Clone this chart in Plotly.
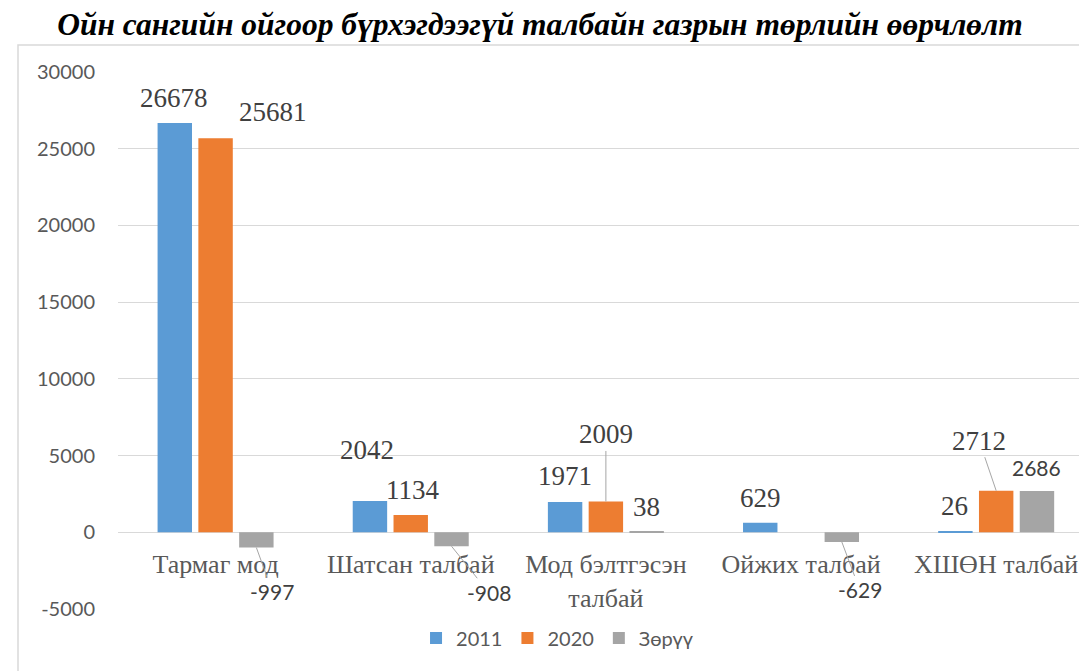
import plotly.graph_objects as go

# ---------------- data ----------------
categories = ["Тармаг мод", "Шатсан талбай", "Мод бэлтгэсэн<br>талбай", "Ойжих талбай", "ХШӨН талбай"]
series_names = ["2011", "2020", "Зөрүү"]
values_2011 = [26678, 2042, 1971, 629, 26]
values_2020 = [25681, 1134, 2009, 0, 2712]
values_diff = [-997, -908, 38, -629, 2686]
y_tick_values = [-5000, 0, 5000, 10000, 15000, 20000, 25000, 30000]
y_tick_labels = ["-5000", "0", "5000", "10000", "15000", "20000", "25000", "30000"]
title_text = "Ойн сангийн ойгоор бүрхэгдээгүй талбайн газрын төрлийн өөрчлөлт"

# ---------------- styling ----------------
colors = ["#5b9bd5", "#ed7d31", "#a5a5a5"]
SERIF = "Liberation Serif"
SANS = "Lato"
BARGAP = 0.373
BARGROUPGAP = 0.156
Y_RANGE = [-5000, 30000]
X_RANGE = [-0.5, 4.45]  # plot area ends a little before the last category's edge
FIG_W, FIG_H = 1079, 663  # page body adds an 8px offset
M = dict(l=110, r=3, t=64, b=62)

# label placement per series / category: (mode, dx, dy, font)
# mode "s" = shifted text (dx right, dy up); "a" = leader line (ax, ay in px)
label_style = [
    [("s", -1, 25, SERIF), ("s", -3, 51, SERIF), ("s", 0, 26, SERIF), ("s", 0, 25, SERIF), ("s", -1, 26, SERIF)],
    [("s", 57, 26, SERIF), ("s", 2, 25, SERIF), ("a", 0, -67, SERIF), None, ("a", -17, -50, SERIF)],
    [("a", 16, 44, SANS), ("a", 37, 46, SANS), ("s", 0, 25, SERIF), ("a", 18, 48, SANS), ("s", 0, 24, SANS)],
]

all_values = [values_2011, values_2020, values_diff]
x_pos = list(range(len(categories)))
slot = (1 - BARGAP) / 3

fig = go.Figure()
for name, vals, col in zip(series_names, all_values, colors):
    fig.add_trace(go.Bar(
        x=x_pos, y=vals, name=name, marker=dict(color=col, line=dict(width=0)),
        hoverinfo="skip",
    ))

annotations = []
for si, vals in enumerate(all_values):
    for ci, v in enumerate(vals):
        st = label_style[si][ci]
        if st is None or v == 0:
            continue
        mode, dx, dy, fam = st
        size = 27 if fam == SERIF else 21
        xc = ci + (si - 1) * slot
        base = dict(x=xc, y=v, xref="x", yref="y", text=str(v),
                    font=dict(family=fam, size=size, color="#404040"))
        if mode == "s":
            base.update(showarrow=False, xshift=dx, yshift=dy, xanchor="center", yanchor="middle")
        else:
            base.update(showarrow=True, ax=dx, ay=dy, arrowhead=0, arrowwidth=1,
                        arrowcolor="#a6a6a6", standoff=0, startstandoff=0,
                        xanchor="center", yanchor="middle")
        annotations.append(base)

zero_frac = (0 - Y_RANGE[0]) / (Y_RANGE[1] - Y_RANGE[0])
plot_w = FIG_W - M["l"] - M["r"]
plot_h = FIG_H - M["t"] - M["b"]

fig.update_layout(
    width=FIG_W, height=FIG_H,
    margin=M,
    paper_bgcolor="white", plot_bgcolor="white",
    barmode="group", bargap=BARGAP, bargroupgap=BARGROUPGAP,
    title=dict(text="<b><i>" + title_text + "</i></b>", x=532 / FIG_W, xref="container", xanchor="center",
               y=1 - 16 / FIG_H, yref="container", yanchor="middle",
               font=dict(family=SERIF, size=31.5, color="black")),
    xaxis=dict(
        range=X_RANGE, tickmode="array", tickvals=x_pos, ticktext=categories,
        anchor="free", position=zero_frac, showgrid=False, showline=False, zeroline=False,
        ticks="", ticklabelstandoff=14,
        tickfont=dict(family=SERIF, size=26, color="#595959"),
    ),
    yaxis=dict(
        range=Y_RANGE, tickmode="array", tickvals=y_tick_values, ticktext=y_tick_labels,
        showgrid=True, gridcolor="#d9d9d9", gridwidth=1,
        zeroline=True, zerolinecolor="#d9d9d9", zerolinewidth=1,
        showline=False, ticks="", ticklabelstandoff=22,
        tickfont=dict(family=SANS, size=20, color="#595959"),
    ),
    legend=dict(orientation="h", x=0.455, xanchor="center", y=-29 / plot_h, yanchor="middle",
                font=dict(family=SANS, size=20, color="#595959"), itemwidth=30,
                traceorder="normal", bgcolor="rgba(0,0,0,0)"),
    annotations=annotations,
    shapes=[dict(type="rect", xref="paper", yref="paper",
                 x0=-100 / plot_w, x1=1.05, y0=-0.3, y1=1 + 27 / plot_h,
                 line=dict(color="#d9d9d9", width=1.5), fillcolor="rgba(0,0,0,0)", layer="below")],
)

fig.write_html("out.html")
